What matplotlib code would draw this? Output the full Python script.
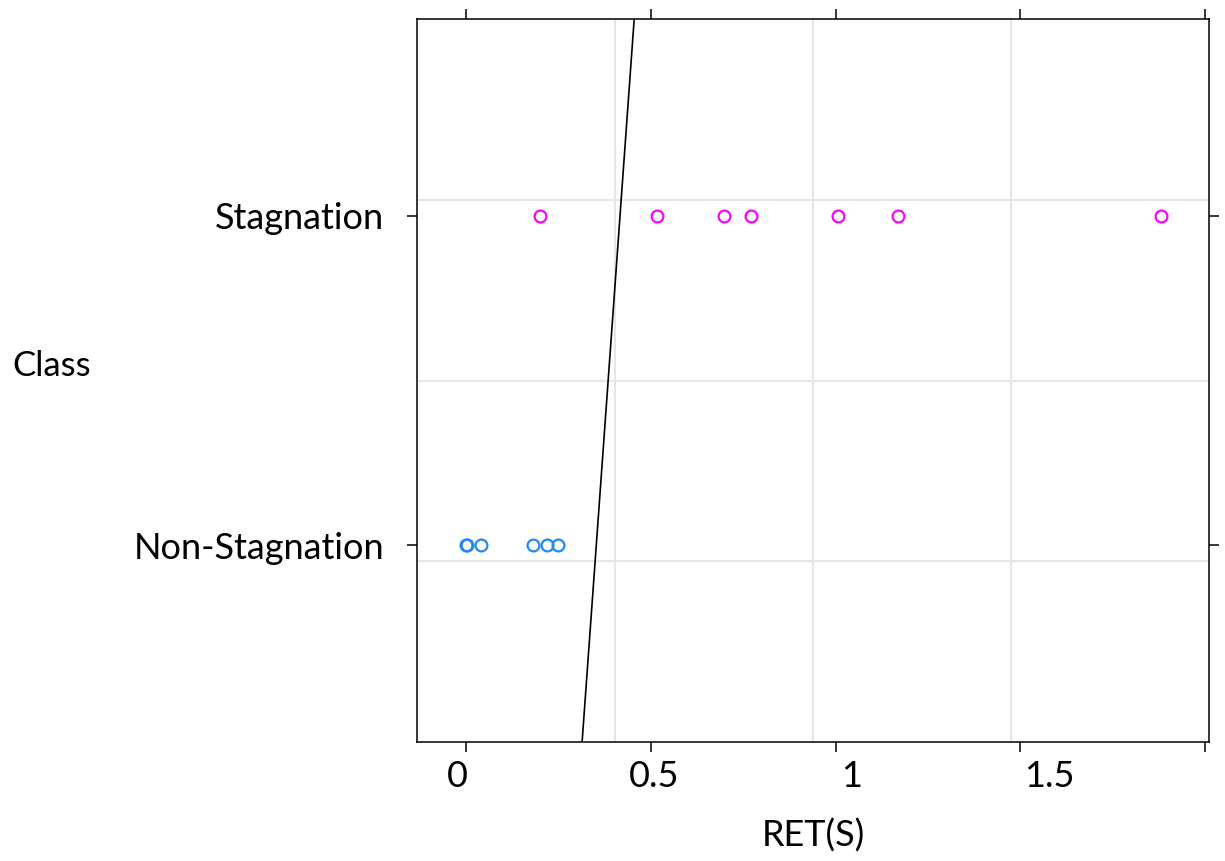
import numpy as np
import matplotlib.pyplot as plt

plt.rcParams['font.family'] = ['Lato', 'DejaVu Sans']

classes = ["Non-Stagnation", "Stagnation"]
non_stag = [0.0, 0.003, 0.04, 0.18, 0.22, 0.25]
stag = [0.2, 0.516, 0.697, 0.77, 1.008, 1.168, 1.88]
# boundary line, x at the bottom and top of the panel
line_x = [0.314, 0.455]
xticks = [0, 0.5, 1, 1.5, 2]
xlabels = ["0", "0.5", "1", "1.5"]

xlim = (-0.133, 2.011)
ylim = (0.403, 2.597)

fig = plt.figure(figsize=(12.25, 8.61), dpi=100)
ax = fig.add_axes([0.3404, 0.1382, 0.6465, 0.8397])
ax.set_xlim(*xlim)
ax.set_ylim(*ylim)

# grid splits the panel into quarters
for f in [0.25, 0.5, 0.75]:
    ax.axvline(xlim[0] + f * (xlim[1] - xlim[0]), color="#e6e6e6", lw=1.5, zorder=0)
    ax.axhline(ylim[0] + f * (ylim[1] - ylim[0]), color="#e6e6e6", lw=1.5, zorder=0)

ax.plot(non_stag, [1] * len(non_stag), "o", mfc="none", mec="#1e88ff", ms=8.5, mew=1.6)
ax.plot(stag, [2] * len(stag), "o", mfc="none", mec="#ff00ff", ms=8.5, mew=1.6)
ax.plot(line_x, ylim, color="black", lw=1.2)

ax.set_yticks([1, 2])
ax.set_yticklabels(classes, fontsize=26)
ax.set_xticks(xticks)
ax.set_xticklabels([])
ax.tick_params(axis="both", direction="out", length=7.5, width=1.1,
               top=True, right=True)
ax.tick_params(axis="y", pad=16)
for s in ax.spines.values():
    s.set_linewidth(1.1)

# tick labels sit on a slightly different scale than the tick marks
sec = ax.secondary_xaxis("bottom", functions=(lambda x: (9 + 369.5 * x) / 395,
                                              lambda s: (395 * s - 9) / 369.5))
sec.set_xticks([0, 0.5, 1, 1.5])
sec.set_xticklabels(xlabels, fontsize=26)
sec.tick_params(length=0, pad=13)
sec.spines["bottom"].set_visible(False)
sec.set_xlabel("RET(S)", fontsize=26, labelpad=18)

fig.text(0.01, 0.575, "Class", fontsize=25, va="center", ha="left")

plt.savefig("out.png", dpi=100)
